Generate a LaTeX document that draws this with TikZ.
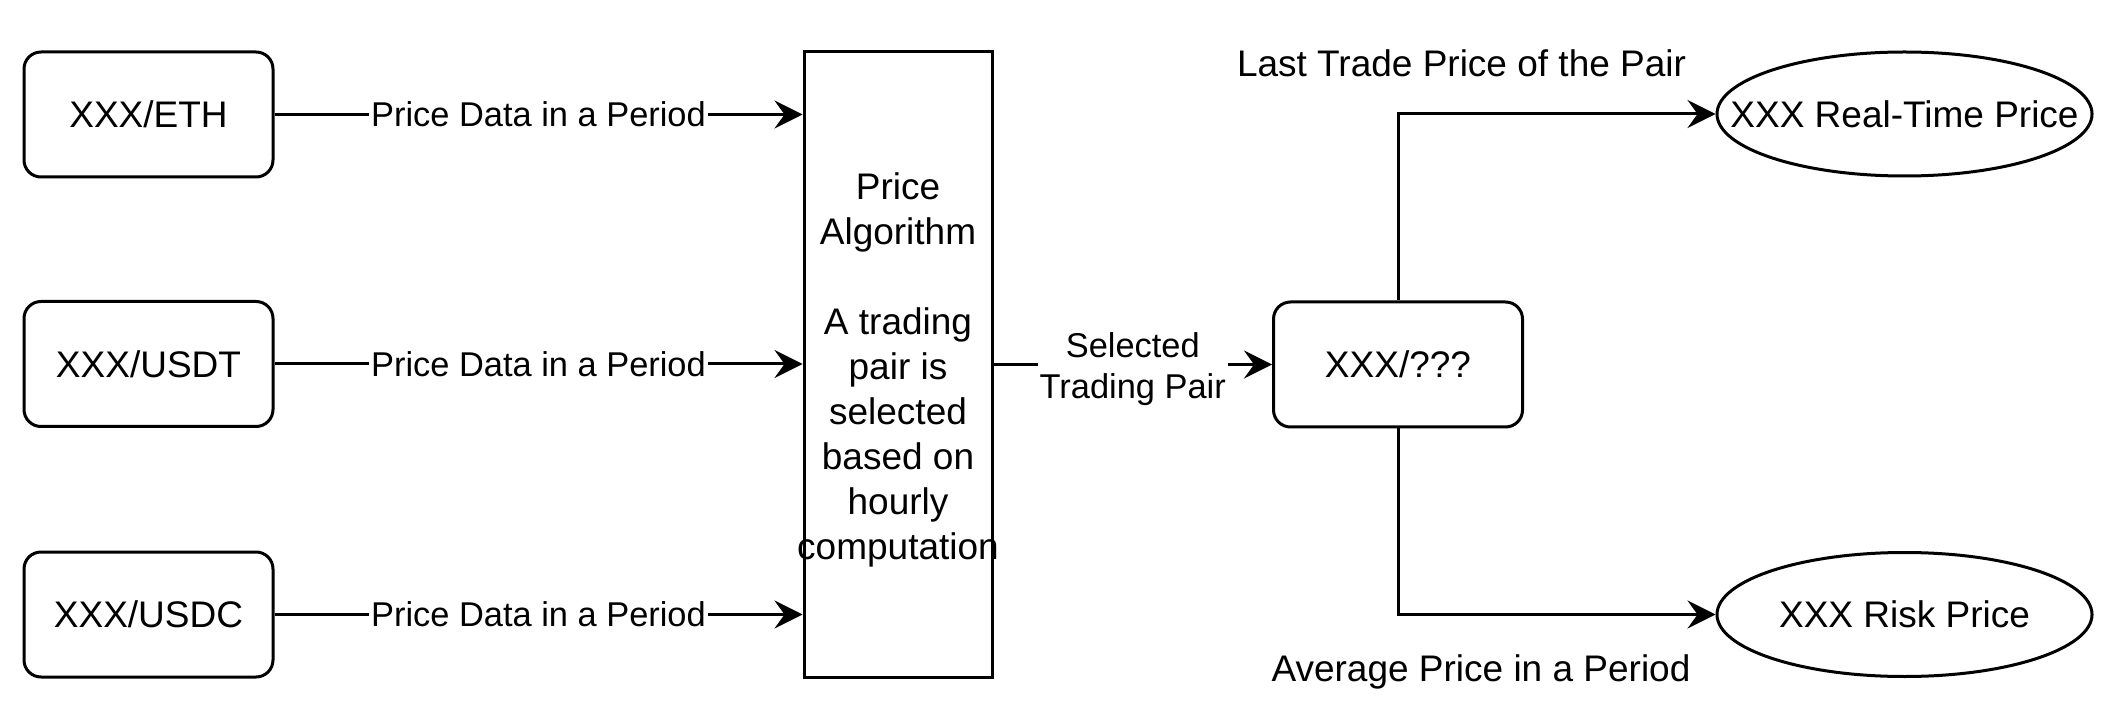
\documentclass[tikz,border=0pt]{standalone}
\usepackage{fontspec}
\setmainfont{Liberation Sans}
\usetikzlibrary{shapes.geometric,arrows.meta}
\begin{document}
\begin{tikzpicture}[x=0.5pt,y=-0.5pt,
  pairbox/.style={draw,line width=1.5pt,rounded corners=8.5pt,minimum width=124.5pt,minimum height=62.5pt,inner sep=0pt,font=\fontsize{18.5}{22.5}\selectfont},
  algobox/.style={draw,line width=1.5pt,minimum width=94pt,minimum height=312.5pt,inner sep=0pt},
  ellbox/.style={draw,ellipse,line width=1.5pt,minimum width=187.5pt,minimum height=62pt,inner sep=0pt},
  ntext/.style={font=\fontsize{18.5}{22.5}\selectfont,inner sep=0pt},
  elabel/.style={fill=white,inner sep=1pt,font=\fontsize{17.2}{20.5}\selectfont,align=center},
  arr/.style={line width=1.5pt,-{Stealth[length=14pt,width=14pt,inset=5pt]}}]
\useasboundingbox (0,0) rectangle (2128,710);
\node[pairbox] (eth) at (148.5,114.5) {XXX/ETH};
\node[pairbox] (usdt) at (148.5,364) {XXX/USDT};
\node[pairbox] (usdc) at (148.5,614.5) {XXX/USDC};
\node[algobox,label={[ntext,align=center,yshift=-2.5pt]center:Price\\Algorithm\\[22.5pt]A trading\\pair is\\selected\\based on\\hourly\\computation}] (algo) at (898,364.5) {};
\node[pairbox] (sel) at (1398,364.5) {XXX/???};
\node[ellbox,label={[ntext]center:XXX Real-Time Price}] (rt) at (1904.5,114) {};
\node[ellbox,label={[ntext]center:XXX Risk Price}] (risk) at (1904.5,614.5) {};
\node[ntext] (lastlbl) at (1461.5,63) {Last Trade Price of the Pair};
\node[ntext] (avglbl) at (1481,672) {Average Price in a Period};
\draw[arr] (eth.east) -- node[elabel] {Price Data in a Period} (eth.east -| algo.west);
\draw[arr] (usdt.east) -- node[elabel] {Price Data in a Period} (usdt.east -| algo.west);
\draw[arr] (usdc.east) -- node[elabel] {Price Data in a Period} (usdc.east -| algo.west);
\draw[arr] (sel.west -| algo.east) -- node[elabel,yshift=-2.5pt] {Selected\\Trading Pair} (sel.west);
\draw[arr] (sel.north) |- (rt.west);
\draw[arr] (sel.south) |- (risk.west);
\end{tikzpicture}
\end{document}
